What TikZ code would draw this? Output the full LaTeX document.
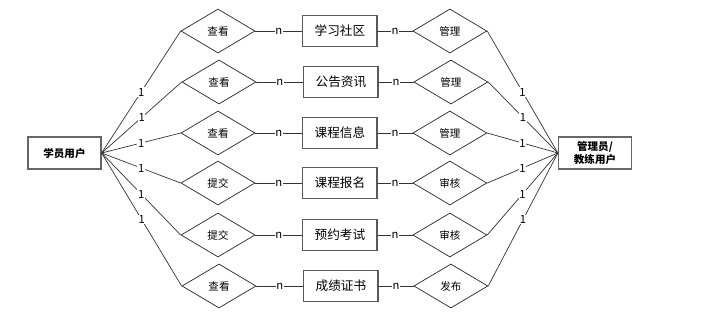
\documentclass[tikz,border=0pt]{standalone}
\usepackage{fontspec}
\setmainfont{Noto Sans CJK SC}
\usepackage{tikz}
\usetikzlibrary{positioning,shapes.geometric}
\tikzset{
  eruser/.style={
    rectangle,
    draw=black!60,
    line width=0.9pt,
    align=center,
    minimum width=1.825cm,
    minimum height=0.8cm,
    inner sep=1pt,
    font=\fontsize{7.5}{9}\selectfont\bfseries
  },
  erentity/.style={
    rectangle,
    draw=black!65,
    line width=0.8pt,
    minimum width=1.85cm,
    minimum height=0.775cm,
    inner sep=0pt,
    font=\fontsize{9}{10}\selectfont
  },
  errelation/.style={
    diamond,
    aspect=1.7,
    draw=black!85,
    line width=0.5pt,
    minimum width=1.85cm,
    minimum height=1.1cm,
    inner sep=0pt,
    font=\fontsize{7.5}{9}\selectfont
  },
  erlink/.style={
    draw=black!80,
    line width=0.5pt
  },
  erdegree/.style={
    fill=white,
    inner sep=0.4pt,
    font=\fontsize{8}{9}\selectfont
  }
}

\begin{document}
\begin{tikzpicture}[x=0.025cm,y=-0.025cm]
\useasboundingbox (0,0) rectangle (706,331);

% users
\node[eruser] (stu) at (64.5,153) {学员用户};
\node[eruser] (adm) at (595,153) {管理员/\\教练用户};

% left relations
\node[errelation] (see1) at (218,31) {查看};
\node[errelation] (see2) at (219,82) {查看};
\node[errelation] (see3) at (218,133) {查看};
\node[errelation] (sub1) at (218,183) {提交};
\node[errelation] (sub2) at (218,235) {提交};
\node[errelation] (see4) at (219,286) {查看};

% entities
\node[erentity, right=1.175cm of see1] (forum) {学习社区};
\node[erentity, right=1.175cm of see2] (notice) {公告资讯};
\node[erentity, right=1.175cm of see3] (course) {课程信息};
\node[erentity, right=1.175cm of sub1] (enroll) {课程报名};
\node[erentity, right=1.175cm of sub2] (exam) {预约考试};
\node[erentity, right=1.175cm of see4] (cert) {成绩证书};

% right relations
\node[errelation, right=0.875cm of forum] (mgr1) {管理};
\node[errelation, right=0.875cm of notice] (mgr2) {管理};
\node[errelation, right=0.875cm of course] (mgr3) {管理};
\node[errelation, right=0.875cm of enroll] (chk1) {审核};
\node[errelation, right=0.875cm of exam] (chk2) {审核};
\node[errelation, right=0.875cm of cert] (pub) {发布};

% student side
\draw[erlink] (stu.east) -- node[erdegree] {1} (see1.west);
\draw[erlink] (stu.east) -- node[erdegree] {1} (see2.west);
\draw[erlink] (stu.east) -- node[erdegree] {1} (see3.west);
\draw[erlink] (stu.east) -- node[erdegree] {1} (sub1.west);
\draw[erlink] (stu.east) -- node[erdegree] {1} (sub2.west);
\draw[erlink] (stu.east) -- node[erdegree] {1} (see4.west);

\draw[erlink] (see1) -- node[erdegree] {n} (forum);
\draw[erlink] (see2) -- node[erdegree] {n} (notice);
\draw[erlink] (see3) -- node[erdegree] {n} (course);
\draw[erlink] (sub1) -- node[erdegree] {n} (enroll);
\draw[erlink] (sub2) -- node[erdegree] {n} (exam);
\draw[erlink] (see4) -- node[erdegree] {n} (cert);

% admin side
\draw[erlink] (forum) -- node[erdegree] {n} (mgr1);
\draw[erlink] (notice) -- node[erdegree] {n} (mgr2);
\draw[erlink] (course) -- node[erdegree] {n} (mgr3);
\draw[erlink] (enroll) -- node[erdegree] {n} (chk1);
\draw[erlink] (exam) -- node[erdegree] {n} (chk2);
\draw[erlink] (cert) -- node[erdegree] {n} (pub);

\draw[erlink] (mgr1.east) -- node[erdegree] {1} (adm.west);
\draw[erlink] (mgr2.east) -- node[erdegree] {1} (adm.west);
\draw[erlink] (mgr3.east) -- node[erdegree] {1} (adm.west);
\draw[erlink] (chk1.east) -- node[erdegree] {1} (adm.west);
\draw[erlink] (chk2.east) -- node[erdegree] {1} (adm.west);
\draw[erlink] (pub.east) -- node[erdegree] {1} (adm.west);
\end{tikzpicture}
\end{document}
